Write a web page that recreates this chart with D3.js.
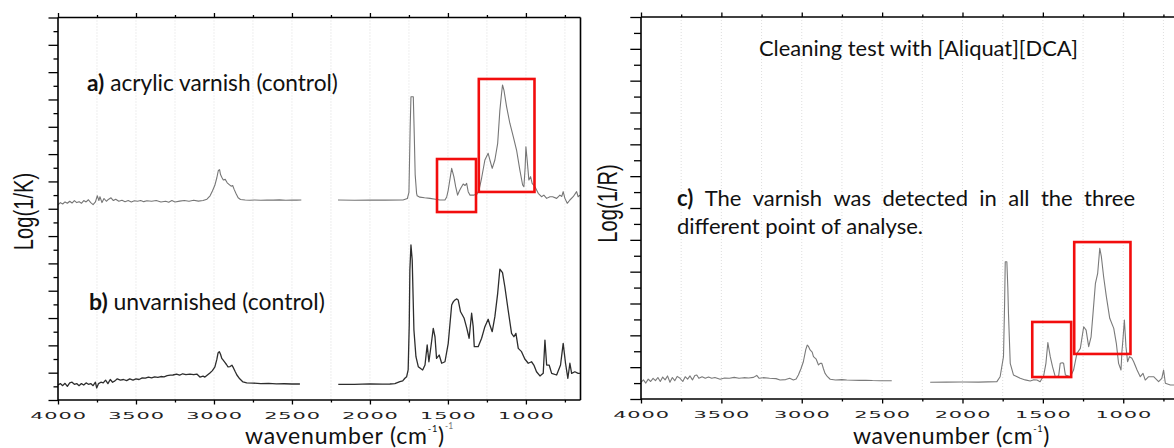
<!DOCTYPE html>
<html>
<head>
<meta charset="utf-8">
<script src="https://cdn.jsdelivr.net/npm/d3@7"></script>
<style>
body { margin: 0; background: #fff; }
svg { display: block; }
</style>
</head>
<body>
<script>
// wavenumber axis (cm-1), shared by both panels
var majorWn = [4000, 3500, 3000, 2500, 2000, 1500, 1000]
var minorWn = [3750, 3250, 2750, 2250, 1750, 1250, 750]
var gridWn = [3750, 3500, 3250, 3000, 2750, 2500, 2250, 2000, 1750, 1500, 1250, 1000, 750]

// a) acrylic varnish (control), in tick units of the left panel
var specA1 = [[4000,14.28],[3985,14.45],[3970,14.35],[3955,14.5],[3940,14.4],[3925,14.55],[3910,14.42],[3895,14.6],[3880,14.45],[3865,14.52],[3850,14.4],[3835,14.6],[3820,14.5],[3805,14.66],[3790,14.45],[3775,14.3],[3760,14.5],[3748,14.95],[3738,14.6],[3731,14.88],[3718,14.45],[3705,14.75],[3690,14.55],[3675,14.7],[3660,14.8],[3645,14.6],[3630,14.7],[3610,14.55],[3590,14.62],[3570,14.52],[3550,14.6],[3530,14.5],[3510,14.58],[3490,14.55],[3470,14.6],[3450,14.52],[3430,14.58],[3400,14.55],[3370,14.6],[3340,14.5],[3310,14.55],[3290,14.48],[3270,14.6],[3250,14.5],[3220,14.56],[3190,14.6],[3160,14.55],[3130,14.62],[3100,14.56],[3070,14.6],[3045,14.7],[3025,14.95],[3010,15.3],[2995,15.7],[2982,16.25],[2972,16.8],[2964,16.86],[2958,16.5],[2950,16.3],[2940,16.1],[2928,16.15],[2915,15.9],[2900,15.75],[2890,15.65],[2880,15.7],[2870,15.4],[2858,15.1],[2845,14.8],[2830,14.68],[2800,14.64],[2770,14.62],[2740,14.64],[2700,14.62],[2660,14.64],[2620,14.63],[2580,14.65],[2540,14.62],[2500,14.64],[2470,14.63],[2440,14.64]]
var specA2 = [[2205,14.64],[2100,14.62],[2000,14.64],[1900,14.63],[1788,14.64],[1760,14.75],[1750,15.2],[1742,20.0],[1737,22.2],[1722,22.2],[1716,19.5],[1710,16.5],[1701,15.13],[1697,14.95],[1680,14.85],[1650,14.8],[1615,14.76],[1580,14.7],[1551,14.64],[1519,14.64],[1508,14.86],[1498,15.37],[1476,16.96],[1462,16.35],[1450,15.6],[1438,15.0],[1427,15.3],[1417,15.52],[1402,15.81],[1390,15.7],[1380,15.86],[1370,15.25],[1359,15.0],[1333,15.0],[1315,15.05],[1300,15.4],[1284,16.25],[1263,17.57],[1242,18.06],[1231,17.57],[1216,16.96],[1199,17.57],[1181,18.79],[1167,21.2],[1156,22.45],[1150,23.06],[1141,22.69],[1124,21.47],[1103,20.26],[1081,19.28],[1060,18.3],[1039,16.84],[1021,15.74],[1013,15.61],[1005,17.0],[1000,18.54],[992,17.57],[981,16.1],[970,16.35],[960,15.86],[942,15.61],[921,15.13],[900,14.88],[885,15.0],[867,14.76],[846,14.88],[829,14.88],[803,14.76],[782,15.0],[770,14.9],[761,15.25],[750,14.76],[735,14.4],[718,14.64],[697,14.88],[675,15.25],[665,14.88],[654,15.0]]

// b) unvarnished (control)
var specB1 = [[4000,1.1],[3985,1.2],[3970,1.05],[3955,1.22],[3940,1.0],[3925,1.25],[3910,1.3],[3895,1.15],[3880,1.2],[3865,1.05],[3850,1.2],[3835,1.1],[3820,1.25],[3805,1.15],[3790,1.2],[3775,1.05],[3760,1.3],[3752,0.88],[3740,1.2],[3725,1.3],[3710,1.25],[3695,1.45],[3680,1.2],[3665,1.5],[3650,1.3],[3635,1.4],[3620,1.55],[3600,1.45],[3580,1.5],[3560,1.42],[3540,1.55],[3519,1.46],[3500,1.55],[3480,1.5],[3460,1.62],[3440,1.6],[3420,1.68],[3400,1.62],[3380,1.7],[3360,1.66],[3340,1.72],[3320,1.7],[3300,1.78],[3280,1.82],[3263,1.83],[3240,1.9],[3220,1.82],[3200,1.92],[3180,1.86],[3154,1.9],[3130,1.85],[3110,1.9],[3090,1.68],[3070,1.75],[3058,1.68],[3040,1.85],[3026,1.98],[3010,2.15],[2994,2.42],[2982,2.95],[2974,3.44],[2966,3.54],[2958,3.35],[2950,3.05],[2942,2.93],[2930,2.75],[2920,2.6],[2910,2.42],[2897,2.45],[2885,2.55],[2875,2.35],[2865,2.1],[2853,1.83],[2835,1.55],[2814,1.32],[2790,1.25],[2750,1.24],[2700,1.2],[2650,1.21],[2600,1.18],[2550,1.19],[2500,1.17],[2449,1.17]]
var specB2 = [[2203,1.15],[2100,1.14],[2000,1.18],[1920,1.16],[1872,1.17],[1840,1.2],[1808,1.34],[1790,1.4],[1776,1.59],[1765,1.7],[1755,2.2],[1748,5.5],[1744,9.52],[1737,11.35],[1729,10.25],[1718,5.12],[1705,3.17],[1690,2.44],[1675,2.3],[1662,2.2],[1647,2.56],[1633,4.03],[1622,2.8],[1609,3.9],[1594,5.25],[1583,4.63],[1573,3.05],[1556,3.29],[1540,2.69],[1519,2.8],[1498,4.15],[1476,6.95],[1465,7.2],[1455,7.32],[1445,7.4],[1434,7.32],[1419,6.46],[1396,5.98],[1380,5.3],[1364,4.52],[1348,6.35],[1338,5.37],[1331,3.9],[1306,3.9],[1284,4.52],[1263,5.37],[1242,5.91],[1231,5.49],[1216,5.0],[1199,6.1],[1181,7.81],[1167,9.57],[1150,9.32],[1135,8.29],[1114,6.59],[1092,4.88],[1077,4.63],[1064,4.88],[1049,3.78],[1028,3.54],[1007,3.0],[985,2.69],[964,2.8],[949,2.56],[932,2.07],[910,1.76],[889,1.95],[878,4.39],[867,2.56],[851,2.56],[835,1.95],[803,1.83],[778,2.56],[761,4.15],[746,2.69],[731,1.59],[718,2.69],[707,1.95],[686,2.07],[665,1.95],[654,1.95]]

// c) after cleaning with [Aliquat][DCA], in tick units of the right panel
var specC1 = [[4000,1.05],[3985,1.2],[3970,1.0],[3955,1.25],[3940,1.1],[3925,1.3],[3910,1.15],[3895,1.35],[3880,1.1],[3865,1.38],[3850,1.2],[3835,1.45],[3820,1.05],[3805,1.35],[3790,1.15],[3775,1.42],[3757,1.3],[3740,1.1],[3725,1.4],[3710,1.25],[3695,1.45],[3680,1.2],[3665,1.48],[3653,1.51],[3640,1.3],[3620,1.4],[3600,1.3],[3580,1.38],[3560,1.3],[3540,1.35],[3508,1.24],[3480,1.32],[3450,1.3],[3420,1.36],[3390,1.3],[3360,1.34],[3330,1.32],[3300,1.36],[3280,1.48],[3265,1.3],[3240,1.34],[3200,1.3],[3160,1.28],[3135,1.19],[3100,1.22],[3075,1.3],[3052,1.19],[3035,1.25],[3021,1.51],[3005,1.9],[2990,2.34],[2975,3.1],[2966,3.39],[2958,3.3],[2948,3.08],[2935,2.95],[2927,2.66],[2910,2.5],[2896,2.14],[2885,2.24],[2875,2.24],[2865,1.9],[2855,1.61],[2840,1.4],[2823,1.24],[2790,1.19],[2750,1.22],[2720,1.19],[2680,1.18],[2640,1.17],[2600,1.18],[2560,1.16],[2512,1.15],[2470,1.15],[2440,1.15]]
var specC2 = [[2201,1.05],[2100,1.06],[2000,1.07],[1900,1.06],[1786,1.09],[1766,1.4],[1745,2.66],[1738,6.0],[1734,8.62],[1724,8.62],[1718,7.0],[1714,5.38],[1703,2.24],[1683,1.51],[1660,1.4],[1641,1.3],[1610,1.2],[1579,1.13],[1560,1.2],[1537,1.19],[1517,1.09],[1505,1.3],[1496,1.4],[1481,2.24],[1469,3.54],[1454,2.66],[1440,2.03],[1423,1.4],[1402,1.44],[1392,2.24],[1379,2.28],[1371,2.24],[1360,1.51],[1329,1.4],[1309,1.82],[1288,2.87],[1267,3.18],[1246,4.54],[1231,4.33],[1215,3.29],[1200,3.91],[1188,5.38],[1173,7.27],[1159,7.9],[1146,9.47],[1136,8.94],[1122,7.68],[1105,6.43],[1084,5.07],[1059,4.44],[1043,3.5],[1029,2.24],[1014,1.82],[1008,3.0],[1002,3.71],[993,4.96],[983,3.29],[973,2.34],[961,2.66],[946,2.56],[935,2.34],[914,1.82],[894,1.4],[877,1.61],[863,1.19],[842,1.4],[811,1.4],[780,1.09],[760,1.3],[749,1.82],[738,0.99],[707,0.88],[683,0.88],[660,0.9]]

// red boxes: [wn from, wn to, low, high]
var boxesLeft = [[1570, 1320, 13.76, 17.64], [1302, 945, 15.23, 23.5]]
var boxesRight = [[1566, 1324, 1.38, 4.84], [1305, 955, 2.83, 9.86]]

var svg = d3.select("body").append("svg")
	.attr("width", 1174).attr("height", 448)
	.style("font-family", "Lato, 'Open Sans', sans-serif")

var panels = [
	{x0: 58, x1: 580.5, y0: 17.5, y1: 400, units: 28, majLen: 9.5, minLen: 4.5,
	 ylabel: "Log(1/K)", ylx: 33, yly: 211.5, boxes: boxesLeft,
	 series: [{segs: [specA1, specA2], color: "#767676", width: 1.1},
	          {segs: [specB1, specB2], color: "#2d2d2d", width: 1.3}]},
	{x0: 641, x1: 1179.5, y0: 17, y1: 399, units: 24, majLen: 10.7, minLen: 7,
	 ylabel: "Log(1/R)", ylx: 617, yly: 203.5, boxes: boxesRight,
	 series: [{segs: [specC1, specC2], color: "#7a7a7a", width: 1.1}]}
]

panels.forEach(drawPanel)

function drawPanel(p) {
	var x = d3.scaleLinear().domain([4000, 650]).range([p.x0, p.x1])
	var y = d3.scaleLinear().domain([0, p.units]).range([p.y1, p.y0])
	var g = svg.append("g")

	// faint dotted grid
	g.selectAll("line.grid").data(gridWn).enter().append("line")
		.attr("class", "grid")
		.attr("x1", d => x(d)).attr("x2", d => x(d))
		.attr("y1", p.y0).attr("y2", p.y1)
		.attr("stroke", "#d6d6d6").attr("stroke-width", 0.8)
		.attr("stroke-dasharray", "1,2")

	// spectra, each one in two pieces (gap around 2300)
	var line = d3.line().x(d => x(d[0])).y(d => y(d[1]))
	p.series.forEach(function(s) {
		s.segs.forEach(function(seg) {
			g.append("path").attr("d", line(seg))
				.attr("fill", "none").attr("stroke", s.color)
				.attr("stroke-width", s.width).attr("stroke-linejoin", "round")
		})
	})

	g.selectAll("rect.box").data(p.boxes).enter().append("rect")
		.attr("class", "box")
		.attr("x", d => x(d[0])).attr("width", d => x(d[1]) - x(d[0]))
		.attr("y", d => y(d[3])).attr("height", d => y(d[2]) - y(d[3]))
		.attr("fill", "none").attr("stroke", "#f20d0d").attr("stroke-width", 2.6)

	// ticks
	var even = d3.range(0, p.units + 1, 2), odd = d3.range(1, p.units, 2)
	addAxis(g, d3.axisLeft(y).tickValues(even).tickSize(p.majLen), p.x0, 0)
	addAxis(g, d3.axisLeft(y).tickValues(odd).tickSize(p.minLen), p.x0, 0)
	addAxis(g, d3.axisTop(x).tickValues(majorWn).tickSize(4.5), 0, p.y0)
	addAxis(g, d3.axisTop(x).tickValues(minorWn).tickSize(2.5), 0, p.y0)
	addAxis(g, d3.axisBottom(x).tickValues(minorWn).tickSize(2.5), 0, p.y1)
	var bottom = addAxis(g, d3.axisBottom(x).tickValues(majorWn).tickSize(4.5)
		.tickFormat(d3.format("d")), 0, p.y1, true)
	bottom.selectAll("text")
		.attr("y", 19.5).attr("dy", null)
		.attr("transform", "scale(2.2,1)")
		.attr("font-family", "'DejaVu Sans'").attr("font-size", 9.5)
		.attr("letter-spacing", 0.4).attr("fill", "#222")

	// frame
	var frame = [[p.x0, p.y0, p.x1, p.y0], [p.x0, p.y1, p.x1, p.y1],
	             [p.x0, p.y0, p.x0, p.y1], [p.x1, p.y0, p.x1, p.y1]]
	g.selectAll("line.frame").data(frame).enter().append("line")
		.attr("class", "frame")
		.attr("x1", d => d[0]).attr("y1", d => d[1]).attr("x2", d => d[2]).attr("y2", d => d[3])
		.attr("stroke", "#000").attr("stroke-width", 1.6)

	g.append("text")
		.attr("transform", "translate(" + p.ylx + "," + p.yly + ") rotate(-90) scale(0.72,1)")
		.attr("text-anchor", "middle").attr("font-family", "'Liberation Sans'")
		.attr("font-size", 28).attr("fill", "#111").text(p.ylabel)
}

function addAxis(g, axis, tx, ty, labels) {
	if (!labels) axis.tickFormat("")
	axis.tickSizeOuter(0)
	var a = g.append("g").attr("transform", "translate(" + tx + "," + ty + ")").call(axis)
	a.select(".domain").remove()
	a.selectAll("line").attr("stroke", "#000").attr("stroke-width", 1.3)
	return a
}

// text helpers
function fitText(t, width) {
	var fs = parseFloat(t.attr("font-size"))
	var len = t.node().getComputedTextLength()
	t.attr("font-size", (fs * width / len).toFixed(2))
	return t
}

function label(x, y, bold, rest, width) {
	var t = svg.append("text").attr("x", x).attr("y", y)
		.attr("font-size", 18).attr("fill", "#111")
	if (bold) t.append("tspan").attr("font-weight", "bold").text(bold)
	t.append("tspan").text(rest)
	return fitText(t, width)
}

label(87, 90.7, "a)", " acrylic varnish (control)", 251)
label(89, 310, "b)", " unvarnished (control)", 236)
label(759, 56, null, "Cleaning test with [Aliquat][DCA]", 319)

// c) paragraph, first line justified
var line2 = label(677, 234, null, "different point of analyse.", 246)
var cfs = parseFloat(line2.attr("font-size"))
var words = ["c)", "The", "varnish", "was", "detected", "in", "all", "the", "three"]
var wt = words.map(function(w, i) {
	return svg.append("text").attr("y", 206).attr("font-size", cfs).attr("fill", "#111")
		.attr("font-weight", i == 0 ? "bold" : null).text(w)
})
var total = d3.sum(wt, t => t.node().getComputedTextLength())
var gap = (1135 - 677 - total) / (words.length - 1)
var cx = 677
wt.forEach(function(t) {
	t.attr("x", cx)
	cx += t.node().getComputedTextLength() + gap
})

// x axis titles
function xTitle(x, width) {
	var t = svg.append("text").attr("x", x).attr("y", 444)
		.attr("font-size", 23).attr("fill", "#111")
	t.append("tspan").text("wavenumber (cm")
	t.append("tspan").attr("font-size", "0.4em").attr("dy", "-1.35em").text("-1")
	t.append("tspan").attr("dy", "0.54em").text(")")
	var len = t.node().getComputedTextLength()
	t.attr("letter-spacing", Math.max(0, (width - len) / 17).toFixed(2))
	return t
}
xTitle(245, 200)
xTitle(853, 197)
svg.append("text").attr("x", 445).attr("y", 429)
	.attr("font-size", 8.5).attr("fill", "#777").text("-1")
</script>
</body>
</html>
